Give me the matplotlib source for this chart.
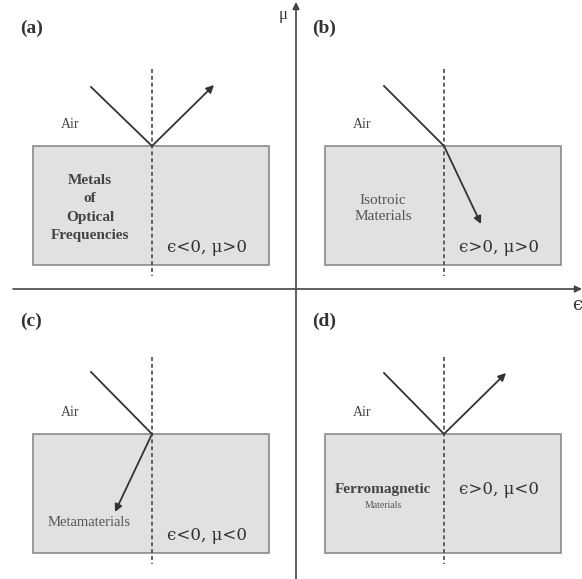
import matplotlib.pyplot as plt
from matplotlib.patches import Rectangle, FancyArrowPatch

# panel layout in pixel coordinates (y down)
labels = ["(a)", "(b)", "(c)", "(d)"]
materials = ["Metals\nof\nOptical\nFrequencies", "Isotroic\nMaterials", "Metamaterials", "Ferromagnetic"]
conditions = ["\u03f5<0, \u03bc>0", "\u03f5>0, \u03bc>0", "\u03f5<0, \u03bc<0", "\u03f5>0, \u03bc<0"]
# ray end point relative to the hit point (dx, dy)
ray_in = [(-61, -59), (-60, -60), (-61, -62), (-60, -61)]
ray_out = [(62, -61), (37, 78), (-37, 78), (62, -61)]

panel_x = [0, 292, 0, 292]
panel_y = [0, 0, 288, 288]

fig = plt.figure(figsize=(5.82, 5.79), dpi=100)
ax = fig.add_axes([0, 0, 1, 1])
ax.set_xlim(0, 582)
ax.set_ylim(579, 0)
ax.axis("off")

plt.rcParams["font.family"] = ["Liberation Serif", "DejaVu Serif"]
ink = "#333333"

for i in range(4):
    ox, oy = panel_x[i], panel_y[i]
    bx0, by0, bw, bh = 33 + ox, 146 + oy, 236, 119
    hx, hy = 152 + ox, 146 + oy
    ax.add_patch(Rectangle((bx0, by0), bw, bh, facecolor="#e1e1e1",
                           edgecolor="#8a8a8a", lw=1.2))
    ax.plot([hx, hx], [69 + oy, 276 + oy], ls=(0, (2.2, 1.6)), color="#555555", lw=1.3)
    dx, dy = ray_in[i]
    ax.plot([hx + dx, hx], [hy + dy, hy], color=ink, lw=1.3)
    ex, ey = ray_out[i]
    ax.add_patch(FancyArrowPatch((hx, hy), (hx + ex, hy + ey), arrowstyle="-|>",
                                 mutation_scale=11, color=ink, lw=1.3,
                                 shrinkA=0, shrinkB=0))
    ax.text(20 + ox, (28 + oy) if i < 2 else (33 + oy), labels[i], fontsize=14,
            color=ink, va="center", fontweight="bold")
    ax.text(70 + ox, 124 + oy, "Air", fontsize=10, color="#444444", ha="center", va="center")
    ax.text(207 + ox, 248 + oy if i != 3 else 490, conditions[i], fontsize=12,
            color=ink, ha="center", va="center", family="DejaVu Serif")

# material labels
ax.text(90, 208, materials[0], fontsize=11, color="#444444", ha="center", va="center",
        fontweight="bold", linespacing=1.55)
ax.text(383, 208, materials[1], fontsize=11, color="#555555", ha="center", va="center",
        linespacing=1.3)
ax.text(89, 523, materials[2], fontsize=10.5, color="#555555", ha="center", va="center")
ax.text(383, 489, materials[3], fontsize=11, color="#444444", ha="center", va="center",
        fontweight="bold")
ax.text(383, 505, "Materials", fontsize=7, color="#555555", ha="center", va="center")

# axes
ax.add_patch(FancyArrowPatch((13, 289), (582, 289), arrowstyle="-|>", mutation_scale=10,
                             color="#444444", lw=1.2, shrinkA=0, shrinkB=0))
ax.add_patch(FancyArrowPatch((296, 579), (296, 2), arrowstyle="-|>", mutation_scale=10,
                             color="#444444", lw=1.2, shrinkA=0, shrinkB=0))
ax.text(283, 15, "\u03bc", fontsize=12, color=ink, ha="center", va="center")
ax.text(577, 305, "\u03f5", fontsize=13, color=ink, ha="center", va="center",
        family="DejaVu Serif")

fig.savefig("out.png", dpi=100)
